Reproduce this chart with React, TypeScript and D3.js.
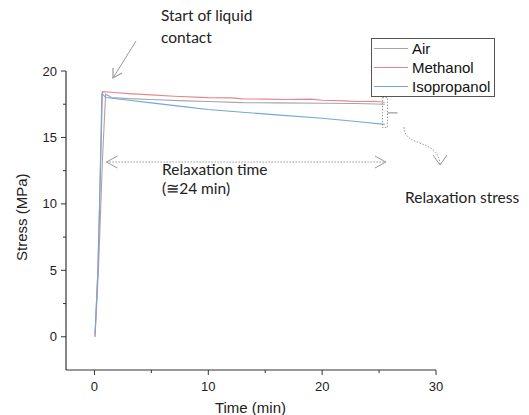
import { useEffect, useRef } from 'react';
import * as d3 from 'd3';

// time (min) and stress (MPa)
const airTime = [0.05, 0.35, 0.7, 0.98, 1.5, 3, 5, 8, 10, 13, 16, 20, 23, 25.5];
const airStress = [0, 5, 13.3, 18.25, 18.0, 17.92, 17.85, 17.75, 17.7, 17.62, 17.6, 17.57, 17.55, 17.5];

const methanolTime = [0.05, 0.3, 0.45, 0.7, 1.5, 3, 5, 7, 10, 12, 13, 15, 17, 19, 20, 22, 23, 24.5, 25.5];
const methanolStress = [0, 5, 10, 18.45, 18.4, 18.3, 18.2, 18.1, 18.0, 17.98, 17.9, 17.88, 17.85, 17.88, 17.8, 17.75, 17.7, 17.72, 17.65];

const isoTime = [0.05, 0.3, 0.45, 0.65, 1.0, 3, 5, 8, 10, 13, 16, 20, 23, 25.5];
const isoStress = [0.2, 5, 10, 18.3, 18.0, 17.8, 17.6, 17.3, 17.1, 16.9, 16.7, 16.45, 16.2, 15.98];

const seriesNames = ['Air', 'Methanol', 'Isopropanol'];
const seriesColors = ['#a6a6a6', '#e8848c', '#72a8da'];

const xMajorTicks = [0, 10, 20, 30];
const xMinorTicks = [5, 15, 25];
const yMajorTicks = [0, 5, 10, 15, 20];
const yMinorTicks = [2.5, 7.5, 12.5, 17.5];

const WIDTH = 529;
const HEIGHT = 415;

export default function App() {
  const svgRef = useRef<SVGSVGElement>(null);

  useEffect(() => {
    if (!svgRef.current) return;
    const svg = d3.select(svgRef.current);
    svg.selectAll('*').remove();

    const x = d3.scaleLinear().domain([-2.5, 30]).range([66, 436]);
    const y = d3.scaleLinear().domain([-2.5, 20]).range([370, 71]);

    const axisFont = "'Liberation Sans', Arial, sans-serif";
    const noteFont = "Lato, 'Open Sans', sans-serif";
    const noteSize = 15.5;
    const axisColor = '#333';

    // axes lines
    svg.append('line')
      .attr('x1', x(-2.5)).attr('x2', x(30))
      .attr('y1', y(-2.5)).attr('y2', y(-2.5))
      .attr('stroke', axisColor).attr('stroke-width', 1.2);
    svg.append('line')
      .attr('x1', x(-2.5)).attr('x2', x(-2.5))
      .attr('y1', y(-2.5)).attr('y2', y(20))
      .attr('stroke', axisColor).attr('stroke-width', 1.2);

    // x ticks
    svg.selectAll('.xt')
      .data([...xMajorTicks, ...xMinorTicks])
      .enter()
      .append('line')
      .attr('x1', (d) => x(d)).attr('x2', (d) => x(d))
      .attr('y1', y(-2.5)).attr('y2', (d) => y(-2.5) + (xMajorTicks.includes(d) ? 5 : 3))
      .attr('stroke', axisColor);
    svg.selectAll('.xl')
      .data(xMajorTicks)
      .enter()
      .append('text')
      .attr('x', (d) => x(d))
      .attr('y', 391)
      .attr('text-anchor', 'middle')
      .attr('font-family', axisFont)
      .attr('font-size', 13)
      .attr('fill', '#222')
      .text((d) => d);

    // y ticks
    svg.selectAll('.yt')
      .data([...yMajorTicks, ...yMinorTicks])
      .enter()
      .append('line')
      .attr('x1', (d) => x(-2.5) - (yMajorTicks.includes(d) ? 5 : 3)).attr('x2', x(-2.5))
      .attr('y1', (d) => y(d)).attr('y2', (d) => y(d))
      .attr('stroke', axisColor);
    svg.selectAll('.yl')
      .data(yMajorTicks)
      .enter()
      .append('text')
      .attr('x', 57)
      .attr('y', (d) => y(d) + 4.5)
      .attr('text-anchor', 'end')
      .attr('font-family', axisFont)
      .attr('font-size', 13)
      .attr('fill', '#222')
      .text((d) => d);

    // axis titles
    svg.append('text')
      .attr('x', x(13.7)).attr('y', 413)
      .attr('text-anchor', 'middle')
      .attr('font-family', axisFont).attr('font-size', 15).attr('fill', '#222')
      .text('Time (min)');
    svg.append('text')
      .attr('transform', `translate(27,${y(9)}) rotate(-90)`)
      .attr('text-anchor', 'middle')
      .attr('font-family', axisFont).attr('font-size', 15).attr('fill', '#222')
      .text('Stress (MPa)');

    // series
    const series = [
      { t: airTime, s: airStress },
      { t: methanolTime, s: methanolStress },
      { t: isoTime, s: isoStress },
    ];
    const line = d3.line<[number, number]>()
      .x((d) => x(d[0]))
      .y((d) => y(d[1]));
    series.forEach((ser, i) => {
      const pts = ser.t.map((t, j) => [t, ser.s[j]] as [number, number]);
      svg.append('path')
        .attr('d', line(pts))
        .attr('fill', 'none')
        .attr('stroke', seriesColors[i])
        .attr('stroke-width', 1.1);
    });

    const grey = '#999';

    // start of liquid contact
    svg.append('text')
      .attr('x', 161).attr('y', 21)
      .attr('font-family', noteFont).attr('font-size', noteSize).attr('fill', '#222')
      .text('Start of liquid');
    svg.append('text')
      .attr('x', 161).attr('y', 43)
      .attr('font-family', noteFont).attr('font-size', noteSize).attr('fill', '#222')
      .text('contact');
    svg.append('line')
      .attr('x1', 136).attr('y1', 41).attr('x2', 113).attr('y2', 78)
      .attr('stroke', grey).attr('stroke-width', 1);
    svg.append('path')
      .attr('d', 'M113,68 L113,78 L122,73')
      .attr('fill', 'none').attr('stroke', grey).attr('stroke-width', 1.2);

    // relaxation time arrow
    const ry = y(13.15);
    const rx1 = x(1.05);
    const rx2 = x(25.6);
    svg.append('line')
      .attr('x1', rx1).attr('x2', rx2).attr('y1', ry).attr('y2', ry)
      .attr('stroke', grey).attr('stroke-dasharray', '1.5,1.5');
    svg.append('path')
      .attr('d', `M${rx1 + 11},${ry - 6} L${rx1},${ry} L${rx1 + 11},${ry + 6}`)
      .attr('fill', 'none').attr('stroke', grey);
    svg.append('path')
      .attr('d', `M${rx2 - 11},${ry - 6} L${rx2},${ry} L${rx2 - 11},${ry + 6}`)
      .attr('fill', 'none').attr('stroke', grey);
    svg.append('text')
      .attr('x', 162).attr('y', 175)
      .attr('font-family', noteFont).attr('font-size', noteSize).attr('fill', '#222')
      .text('Relaxation time');
    svg.append('text')
      .attr('x', 162).attr('y', 194)
      .attr('font-family', noteFont).attr('font-size', noteSize).attr('fill', '#222')
      .text('(\u224524 min)');

    // relaxation stress bracket
    const bx = x(25.3);
    svg.append('rect')
      .attr('x', bx).attr('y', y(18.0))
      .attr('width', 5).attr('height', y(15.75) - y(18.0))
      .attr('fill', 'none').attr('stroke', grey).attr('stroke-dasharray', '1.5,1.5');
    svg.append('line')
      .attr('x1', bx + 5).attr('x2', bx + 15)
      .attr('y1', y(16.85)).attr('y2', y(16.85))
      .attr('stroke', grey).attr('stroke-width', 1.2);
    svg.append('path')
      .attr('d', 'M404,127 C404,148 438,138 440,164')
      .attr('fill', 'none').attr('stroke', grey).attr('stroke-dasharray', '1.5,1.5');
    svg.append('path')
      .attr('d', 'M433,155 L440,165 L447,155')
      .attr('fill', 'none').attr('stroke', grey);
    svg.append('text')
      .attr('x', 405).attr('y', 203)
      .attr('font-family', noteFont).attr('font-size', noteSize).attr('fill', '#222')
      .text('Relaxation stress');

    // legend
    const lg = svg.append('g');
    lg.append('rect')
      .attr('x', 371.5).attr('y', 38.5)
      .attr('width', 123).attr('height', 58)
      .attr('fill', 'white').attr('stroke', '#555');
    seriesNames.forEach((name, i) => {
      const ly = 48.5 + i * 19;
      lg.append('line')
        .attr('x1', 374).attr('x2', 408).attr('y1', ly).attr('y2', ly)
        .attr('stroke', seriesColors[i]).attr('stroke-width', 1.2);
      lg.append('text')
        .attr('x', 412).attr('y', ly + 5.5)
        .attr('font-family', axisFont).attr('font-size', 15).attr('fill', '#111')
        .text(name);
    });
  }, []);

  return (
    <svg
      ref={svgRef}
      width={WIDTH}
      height={HEIGHT}
      style={{ position: 'absolute', left: 0, top: 0, background: 'white' }}
    />
  );
}
